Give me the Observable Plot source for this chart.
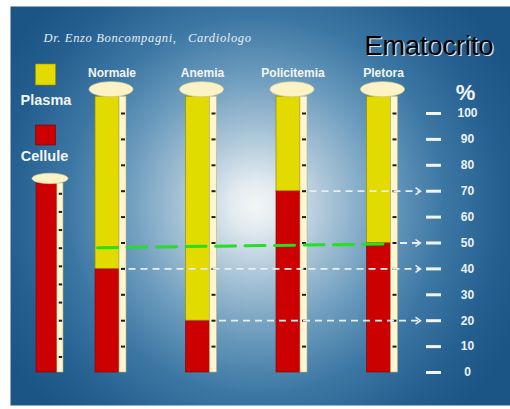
<!DOCTYPE html>
<html><head><meta charset="utf-8">
<script src="https://cdn.jsdelivr.net/npm/d3@7"></script>
<script src="https://cdn.jsdelivr.net/npm/@observablehq/plot@0.6"></script>
<style>body{margin:0;background:#fff;} svg{display:block;}</style>
</head><body><div id="chart"></div>
<script>
// ---------- data ----------
const title = "Ematocrito";
const author = "Dr. Enzo Boncompagni,   Cardiologo";
const categories = ["Normale", "Anemia", "Policitemia", "Pletora"];
const cellule = [40, 20, 70, 50];          // % globuli (cellule)
const tubeTop = 106.5;                      // top of each tube on the % scale
const wholeBlood = 73;                      // level of the left (whole blood) tube
const axisTicks = [0, 10, 20, 30, 40, 50, 60, 70, 80, 90, 100];
const tubeTicks = [10, 20, 30, 40, 50, 60, 70, 80, 90, 100];
const leftTubeTicks = [6, 13, 20, 27, 34, 41, 48, 55, 62, 69];
const greenLevel = [48.2, 49.6];            // green dashed reference (left, right)
const legendLabels = ["Plasma", "Cellule"];
const unit = "%";

// ---------- layout ----------
const W = 510, H = 409;
const X = {domain: [1, 4], range: [110.5, 382]};
const Y = {domain: [0, 100], range: [372, 113]};
const ux = (X.range[1] - X.range[0]) / (X.domain[1] - X.domain[0]);
const px = p => p / ux;
const FONT = "Liberation Sans, Arial, sans-serif";
const RED = "#cc0000", YELLOW = "#e3da00", CREAM = "#fdf7d0", WHITE = "#f2f5f8";

const tubes = categories.map((name, i) => ({name, x: i + 1, cell: cellule[i], s: 1}));
const left = {name: "", x: 1 - px(61), cell: wholeBlood, s: 0.87};
const allTubes = [left, ...tubes];

const colLeft = t => t.x - px(15.5 * t.s);
const colRight = t => t.x + px(8.5 * t.s);
const stripRight = t => t.x + px(15.5 * t.s);

const redSegs = allTubes.map(t => ({x1: colLeft(t), x2: colRight(t), y1: 0, y2: t.cell}));
const yellowSegs = tubes.map(t => ({x1: colLeft(t), x2: colRight(t), y1: t.cell, y2: tubeTop}));
const strips = allTubes.map(t => ({x1: colRight(t), x2: stripRight(t), y1: 0, y2: t === left ? wholeBlood : tubeTop}));
const ticks = [
  ...tubes.flatMap(t => tubeTicks.map(v => ({x1: t.x + px(10.5), x2: t.x + px(14.5), y: v}))),
  ...leftTubeTicks.map(v => ({x1: left.x + px(9.2), x2: left.x + px(12.6), y: v}))
];
const arrowTip = 4 + px(38);
const arrows = tubes.map(t => ({x1: stripRight(t) + px(2.5), x2: arrowTip - px(1), y: t.cell}));
const green = [{x: 1 - px(13.5), y: greenLevel[0]}, {x: 4 + px(1), y: greenLevel[1]}];

function ellipse(rx, ry) {
  const k = 0.5523;
  return {draw(c) {
    c.moveTo(rx, 0);
    c.bezierCurveTo(rx, ry * k, rx * k, ry, 0, ry);
    c.bezierCurveTo(-rx * k, ry, -rx, ry * k, -rx, 0);
    c.bezierCurveTo(-rx, -ry * k, -rx * k, -ry, 0, -ry);
    c.bezierCurveTo(rx * k, -ry, rx, -ry * k, rx, 0);
    c.closePath();
  }};
}
function box(w, h) {
  return {draw(c) { c.moveTo(-w/2, -h/2); c.lineTo(w/2, -h/2); c.lineTo(w/2, h/2); c.lineTo(-w/2, h/2); c.closePath(); }};
}
const chevron = {draw(c) { c.moveTo(-5, -3.5); c.lineTo(0, 0); c.lineTo(-5, 3.5); }};

const defsMark = () => {
  const defs = d3.create("svg:defs");
  const g = defs.append("radialGradient").attr("id", "bgGrad")
    .attr("gradientUnits", "userSpaceOnUse").attr("cx", 255).attr("cy", 205).attr("r", 290);
  [[0, "#f4f6f7"], [0.08, "#e3ebf0"], [0.25, "#a9c4d7"], [0.45, "#6b9bbd"], [0.65, "#3c77a4"], [0.85, "#245f90"], [1, "#1a5585"]]
    .forEach(([o, c]) => g.append("stop").attr("offset", o).attr("stop-color", c));
  return defs.node();
};

const chart = Plot.plot({
  width: W, height: H,
  marginTop: 6, marginLeft: 10, marginRight: 0, marginBottom: 4,
  x: {type: "linear", ...X, axis: null},
  y: {type: "linear", ...Y, axis: null},
  style: {fontFamily: FONT, background: "white"},
  marks: [
    defsMark,
    Plot.frame({fill: "url(#bgGrad)", stroke: null}),
    // texts
    Plot.text([author], {frameAnchor: "top-left", dx: 33, dy: 27, text: d => d, textAnchor: "start",
      fill: "#e8edf2", fontSize: 12.5, fontStyle: "italic", fontFamily: "Liberation Serif, serif"}),
    Plot.text([title], {frameAnchor: "top-right", dx: -15.8, dy: 30.2, text: d => d, textAnchor: "end",
      fill: "#dfe7ee", fontSize: 27}),
    Plot.text([title], {frameAnchor: "top-right", dx: -17, dy: 29, text: d => d, textAnchor: "end",
      fill: "#000", fontSize: 27}),
    Plot.text(tubes, {x: "x", frameAnchor: "top", dx: 1, dy: 62, text: "name", fill: WHITE,
      fontWeight: "bold", fontSize: 12}),
    // legend
    Plot.dot([YELLOW], {frameAnchor: "top-left", dx: 35, dy: 68, symbol: box(20, 21), fill: d => d, stroke: "#9c9500", strokeWidth: 0.6, r: 10}),
    Plot.dot([RED], {frameAnchor: "top-left", dx: 35, dy: 128.5, symbol: box(20, 20), fill: d => d, stroke: "#700", strokeWidth: 0.6, r: 10}),
    Plot.text(legendLabels.slice(0, 1), {frameAnchor: "top-left", dx: 35.5, dy: 88, text: d => d, textAnchor: "middle",
      fill: WHITE, fontWeight: "bold", fontSize: 14.5}),
    Plot.text(legendLabels.slice(1, 2), {frameAnchor: "top-left", dx: 34, dy: 144, text: d => d, textAnchor: "middle",
      fill: WHITE, fontWeight: "bold", fontSize: 14.5}),
    // tubes
    Plot.rect(redSegs, {x1: "x1", x2: "x2", y1: "y1", y2: "y2", fill: RED, stroke: "#7a0c0c", strokeWidth: 0.7}),
    Plot.rect(yellowSegs, {x1: "x1", x2: "x2", y1: "y1", y2: "y2", fill: YELLOW, stroke: "#8f8a10", strokeWidth: 0.7}),
    Plot.rect(strips, {x1: "x1", x2: "x2", y1: "y1", y2: "y2", fill: CREAM, stroke: "#b9b08a", strokeWidth: 0.6}),
    Plot.ruleY(ticks, {y: "y", x1: "x1", x2: "x2", stroke: "#1c1c1c", strokeWidth: 2}),
    Plot.dot(tubes, {x: "x", y: () => tubeTop, dy: -7.5, symbol: ellipse(22, 7.5), fill: "#fbf3c6", stroke: "#d6cc98", strokeWidth: 0.7, r: 10}),
    Plot.dot([left], {x: "x", y: () => wholeBlood, dy: -5, symbol: ellipse(18, 5.2), fill: "#fbf3c6", stroke: "#d6cc98", strokeWidth: 0.7, r: 10}),
    // reference lines
    Plot.ruleY(arrows, {y: "y", x1: "x1", x2: "x2", stroke: "#e8eef3", strokeWidth: 1.8, strokeDasharray: "7,5"}),
    Plot.dot(arrows, {x: () => arrowTip, y: "y", symbol: chevron, fill: "none", stroke: "#e8eef3", strokeWidth: 1.5, r: 5}),
    Plot.line(green, {x: "x", y: "y", stroke: "#22e022", strokeWidth: 3, strokeDasharray: "20,9.5"}),
    // right axis
    Plot.ruleY(axisTicks, {y: d => d, x1: () => 4 + px(44), x2: () => 4 + px(59), stroke: WHITE, strokeWidth: 3}),
    Plot.text(axisTicks, {y: d => d, x: () => 4 + px(85), dy: 0, text: d => String(d), fill: "#eef2f6", fontWeight: "bold", fontSize: 12}),
    Plot.text([unit], {x: () => 4 + px(83), frameAnchor: "top", dy: 78, text: d => d, fill: WHITE, fontWeight: "bold", fontSize: 22})
  ]
});
d3.select(chart).selectAll("text").filter(function() { return this.textContent === author; })
  .style("letter-spacing", "0.65px");
document.getElementById("chart").appendChild(chart);
</script>
</body></html>
